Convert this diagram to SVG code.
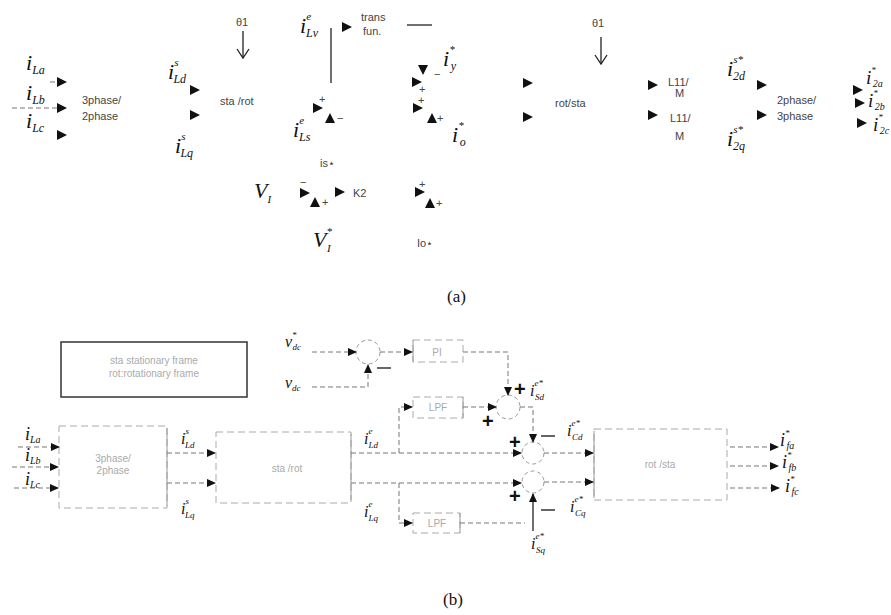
<svg xmlns="http://www.w3.org/2000/svg" xmlns:xlink="http://www.w3.org/1999/xlink" width="891" height="615" viewBox="0 0 891 615">
<style>
.m{font-family:"Liberation Serif",serif;font-style:italic;fill:#111}
.s{font-family:"Liberation Sans",sans-serif;fill:#444;font-size:11px}
.f{font-family:"Liberation Sans",sans-serif;fill:#aaa;font-size:10px}
.cap{font-family:"Liberation Serif",serif;fill:#111;font-size:17px}
.ln{stroke:#777;stroke-width:1;stroke-dasharray:5 3;fill:none}
.sl{stroke:#222;stroke-width:1.3;fill:none}
.box{stroke:#aaa;stroke-width:1;stroke-dasharray:7 4;fill:none}
.pl{font-family:"Liberation Sans",sans-serif;font-weight:bold;fill:#111;font-size:20px}
.ci{stroke:#999;stroke-width:1;stroke-dasharray:4 3;fill:none}
</style>
<defs>
<path id="tr" d="M-5,-5 L5,0 L-5,5 z" fill="#111"/>
<marker id="ah" markerUnits="userSpaceOnUse" markerWidth="9" markerHeight="8" refX="8" refY="4" orient="auto"><path d="M0,0 L9,4 L0,8 z" fill="#111"/></marker>
<path id="va" d="M-6,-9 L0,0 L6,-9" fill="none" stroke="#222" stroke-width="1.3"/>
</defs>

<!-- ===== Part (a) ===== -->
<g id="a-inputs">
<text class="m" x="26" y="70" font-size="22">i<tspan font-size="12" dy="4">La</tspan></text>
<text class="m" x="26" y="100" font-size="22">i<tspan font-size="12" dy="4">Lb</tspan></text>
<text class="m" x="26" y="128" font-size="22">i<tspan font-size="12" dy="4">Lc</tspan></text>
<use xlink:href="#tr" x="62" y="82"/><use xlink:href="#tr" x="62" y="108"/><use xlink:href="#tr" x="62" y="135"/>
</g>
<g id="a-3p2p"><text class="s" x="82" y="104">3phase/</text><text class="s" x="82" y="120">2phase</text></g>
<g id="a-ils">
<text class="m" x="168" y="79" font-size="22">i<tspan font-size="11" dy="-13">s</tspan><tspan font-size="12" dx="-5" dy="17">Ld</tspan></text>
<text class="m" x="175" y="153" font-size="22">i<tspan font-size="11" dy="-13">s</tspan><tspan font-size="12" dx="-5" dy="17">Lq</tspan></text>
<use xlink:href="#tr" x="195" y="90"/><use xlink:href="#tr" x="195" y="115"/>
</g>
<g id="a-theta1"><text class="s" x="236" y="26" font-size="12" fill="#222">θ1</text><line class="sl" x1="243" y1="31" x2="243" y2="58"/><use xlink:href="#va" x="243" y="58"/></g>
<g id="a-starot"><text class="s" x="220" y="105">sta /rot</text></g>
<g id="a-trans">
<text class="m" x="300" y="33" font-size="22">i<tspan font-size="11" dy="-13">e</tspan><tspan font-size="12" dx="-5" dy="17">Lv</tspan></text>
<line class="sl" x1="331" y1="28" x2="331" y2="83"/>
<use xlink:href="#tr" x="347" y="27"/>
<text class="s" x="361" y="21">trans</text><text class="s" x="363" y="35">fun.</text>
<line class="sl" x1="407" y1="25" x2="432" y2="25" stroke-width="1"/>
</g>
<g id="a-sum-y">
<text class="m" x="443" y="66" font-size="22">i<tspan font-size="11" dy="-13">*</tspan><tspan font-size="12" dx="-4" dy="17">y</tspan></text>
<use xlink:href="#tr" transform="translate(423,70) rotate(90)"/><text class="s" x="434" y="78" font-size="13" fill="#111">−</text>
<use xlink:href="#tr" x="417" y="82"/><text class="s" x="419" y="93" font-size="10" fill="#111">+</text>
</g>
<g id="a-sum-s">
<use xlink:href="#tr" x="318" y="108"/><text class="s" x="319" y="103" font-size="12" fill="#111">+</text>
<use xlink:href="#tr" transform="translate(330,118) rotate(-90)"/><text class="s" x="337" y="122" font-size="13" fill="#111">−</text>
<text class="m" x="293" y="137" font-size="22">i<tspan font-size="11" dy="-13">e</tspan><tspan font-size="12" dx="-5" dy="17">Ls</tspan></text>
<text class="s" x="320" y="167">is⋆</text>
</g>
<g id="a-sum-o">
<use xlink:href="#tr" x="418" y="108"/><text class="s" x="418" y="104" font-size="11" fill="#111">+</text>
<use xlink:href="#tr" transform="translate(432,118) rotate(-90)"/><text class="s" x="437" y="122" font-size="12" fill="#111">+</text>
<text class="m" x="452" y="142" font-size="22">i<tspan font-size="11" dy="-13">*</tspan><tspan font-size="12" dx="-4" dy="17">o</tspan></text>
</g>
<g id="a-k2">
<text class="m" x="254" y="198" font-size="22">V<tspan font-size="11" dy="5">I</tspan></text>
<text class="s" x="300" y="186" font-size="13" fill="#111">−</text>
<use xlink:href="#tr" x="305" y="193"/>
<use xlink:href="#tr" transform="translate(315,202) rotate(-90)"/><text class="s" x="322" y="206" font-size="12" fill="#111">+</text>
<use xlink:href="#tr" x="340" y="192"/><text class="s" x="353" y="197">K2</text>
<text class="m" x="313" y="247" font-size="22">V<tspan font-size="11" dy="-12">*</tspan><tspan font-size="11" dx="-5" dy="17">I</tspan></text>
</g>
<g id="a-sum-io">
<use xlink:href="#tr" x="420" y="192"/><text class="s" x="419" y="188" font-size="13" fill="#111">+</text>
<use xlink:href="#tr" transform="translate(430,203) rotate(-90)"/><text class="s" x="436" y="207" font-size="12" fill="#111">+</text>
<text class="s" x="417" y="247">Io⋆</text>
</g>
<g id="a-rotsta">
<use xlink:href="#tr" x="528" y="83"/><use xlink:href="#tr" x="528" y="117"/>
<text class="s" x="555" y="107">rot/sta</text>
<text class="s" x="592" y="27" font-size="12" fill="#222">θ1</text><line class="sl" x1="601" y1="37" x2="601" y2="64"/><use xlink:href="#va" x="601" y="64"/>
</g>
<g id="a-l11">
<use xlink:href="#tr" x="653" y="85"/><text class="s" x="668" y="86">L11/</text><text class="s" x="675" y="97">M</text>
<use xlink:href="#tr" x="653" y="115"/><text class="s" x="670" y="122">L11/</text><text class="s" x="675" y="140">M</text>
</g>
<g id="a-2p3p">
<text class="m" x="727" y="76" font-size="22">i<tspan font-size="11" dy="-13">s*</tspan><tspan font-size="12" dx="-10" dy="17">2d</tspan></text>
<text class="m" x="727" y="146" font-size="22">i<tspan font-size="11" dy="-13">s*</tspan><tspan font-size="12" dx="-10" dy="17">2q</tspan></text>
<use xlink:href="#tr" x="762" y="85"/><use xlink:href="#tr" x="762" y="115"/>
<text class="s" x="777" y="104">2phase/</text><text class="s" x="777" y="120">3phase</text>
</g>
<g id="a-out">
<use xlink:href="#tr" x="858" y="90"/><text class="m" x="866" y="84" font-size="19">i<tspan font-size="9" dy="-11">*</tspan><tspan font-size="10" dx="-3" dy="14">2a</tspan></text>
<use xlink:href="#tr" x="860" y="103"/><text class="m" x="868" y="107" font-size="19">i<tspan font-size="9" dy="-11">*</tspan><tspan font-size="10" dx="-3" dy="14">2b</tspan></text>
<use xlink:href="#tr" x="862" y="123"/><text class="m" x="873" y="131" font-size="19">i<tspan font-size="9" dy="-11">*</tspan><tspan font-size="10" dx="-3" dy="14">2c</tspan></text>
</g>
<text class="cap" x="447" y="302">(a)</text>

<!-- ===== Part (b) ===== -->
<g id="b-legend">
<rect x="61" y="342" width="186" height="55" fill="none" stroke="#333" stroke-width="1.5"/>
<text class="f" x="154" y="364" text-anchor="middle" fill="#666">sta stationary frame</text>
<text class="f" x="154" y="377" text-anchor="middle" fill="#666">rot:rotationary frame</text>
</g>
<g id="b-3p2p">
<rect class="box" x="59" y="426" width="108" height="82"/>
<line x1="167" y1="428" x2="167" y2="506" stroke="#999"/>
<text class="f" x="113" y="462" text-anchor="middle">3phase/</text>
<text class="f" x="113" y="474" text-anchor="middle">2phase</text>
</g>
<g id="b-in-labels">
<text class="m" x="25" y="440" font-size="18">i<tspan font-size="10" dy="3">La</tspan></text>
<text class="m" x="25" y="461" font-size="18">i<tspan font-size="10" dy="3">Lb</tspan></text>
<text class="m" x="25" y="485" font-size="18">i<tspan font-size="10" dy="3">Lc</tspan></text>
</g>
<g id="b-starot">
<rect class="box" x="216" y="432" width="135" height="71"/>
<line x1="351" y1="434" x2="351" y2="500" stroke="#999"/>
<text class="f" x="287" y="472" text-anchor="middle">sta /rot</text>
</g>
<g id="b-pi-sum">
<circle class="ci" cx="368" cy="352" r="12"/>
<text class="m" x="285" y="347" font-size="16">v<tspan font-size="9" dy="-9">*</tspan><tspan font-size="9" dx="-4" dy="12">dc</tspan></text>
<text class="m" x="285" y="388" font-size="16">v<tspan font-size="9" dy="3">dc</tspan></text>
<line x1="377" y1="368" x2="391" y2="368" stroke="#111" stroke-width="1.3"/>
</g>
<g id="b-pi"><rect class="box" x="413" y="340" width="50" height="22"/><line x1="413" y1="340" x2="413" y2="362" stroke="#999"/><text class="f" x="437" y="356" text-anchor="middle" fill="#666">PI</text></g>
<g id="b-lpf1"><rect class="box" x="413" y="397" width="50" height="21"/><line x1="463" y1="397" x2="463" y2="418" stroke="#999"/><text class="f" x="438" y="411" text-anchor="middle" fill="#666">LPF</text></g>
<g id="b-lpf2"><rect class="box" x="413" y="513" width="47" height="20"/><line x1="460" y1="513" x2="460" y2="533" stroke="#999"/><text class="f" x="437" y="527" text-anchor="middle" fill="#666">LPF</text></g>
<g id="b-sum-sd">
<circle class="ci" cx="508" cy="407" r="12"/>
<text class="pl" x="514" y="396">+</text>
<text class="m" x="530" y="396" font-size="16">i<tspan font-size="9" dy="-10">e*</tspan><tspan font-size="9" dx="-8" dy="14">Sd</tspan></text>
<text class="pl" x="482" y="428">+</text>
</g>
<g id="b-sum-cd">
<circle class="ci" cx="533" cy="453" r="11"/>
<text class="pl" x="509" y="449">+</text>
<line x1="541" y1="436" x2="555" y2="436" stroke="#111" stroke-width="1.3"/>
<text class="m" x="567" y="436" font-size="16">i<tspan font-size="9" dy="-10">e*</tspan><tspan font-size="9" dx="-8" dy="14">Cd</tspan></text>
</g>
<g id="b-sum-cq">
<circle class="ci" cx="533" cy="482" r="11"/>
<text class="pl" x="509" y="503">+</text>
<line x1="541" y1="510" x2="555" y2="510" stroke="#111" stroke-width="1.3"/>
<text class="m" x="570" y="512" font-size="16">i<tspan font-size="9" dy="-10">e*</tspan><tspan font-size="9" dx="-8" dy="14">Cq</tspan></text>
<text class="m" x="531" y="549" font-size="16">i<tspan font-size="9" dy="-10">e*</tspan><tspan font-size="9" dx="-8" dy="14">Sq</tspan></text>
</g>
<g id="b-rotsta">
<rect class="box" x="594" y="429" width="133" height="71"/>
<line x1="594" y1="431" x2="594" y2="498" stroke="#999"/>
<text class="f" x="660" y="468" text-anchor="middle">rot /sta</text>
</g>
<g id="b-mid-labels">
<text class="m" x="181" y="444" font-size="16">i<tspan font-size="9" dy="-10">s</tspan><tspan font-size="9" dx="-4" dy="14">Ld</tspan></text>
<text class="m" x="181" y="514" font-size="16">i<tspan font-size="9" dy="-10">s</tspan><tspan font-size="9" dx="-4" dy="14">Lq</tspan></text>
<text class="m" x="364" y="444" font-size="16">i<tspan font-size="9" dy="-10">e</tspan><tspan font-size="9" dx="-4" dy="14">Ld</tspan></text>
<text class="m" x="364" y="517" font-size="16">i<tspan font-size="9" dy="-10">e</tspan><tspan font-size="9" dx="-4" dy="14">Lq</tspan></text>
</g>
<g id="b-out-labels">
<text class="m" x="780" y="446" font-size="18">i<tspan font-size="9" dy="-10">*</tspan><tspan font-size="10" dx="-3" dy="13">fa</tspan></text>
<text class="m" x="782" y="468" font-size="18">i<tspan font-size="9" dy="-10">*</tspan><tspan font-size="10" dx="-3" dy="13">fb</tspan></text>
<text class="m" x="785" y="492" font-size="18">i<tspan font-size="9" dy="-10">*</tspan><tspan font-size="10" dx="-3" dy="13">fc</tspan></text>
</g>
<text class="cap" x="443" y="605">(b)</text>

<g id="connectors">
<line class="ln" x1="50" y1="82" x2="57" y2="82" stroke="#bbb"/>
<line class="ln" x1="12" y1="108" x2="57" y2="108" stroke="#bbb"/>
<line class="ln" x1="18" y1="447" x2="59" y2="447" marker-end="url(#ah)"/>
<line class="ln" x1="12" y1="467" x2="58" y2="467" marker-end="url(#ah)"/>
<line class="ln" x1="14" y1="488" x2="58" y2="488" marker-end="url(#ah)"/>
<line class="ln" x1="167" y1="453" x2="215" y2="453" marker-end="url(#ah)"/>
<line class="ln" x1="167" y1="483" x2="215" y2="483" marker-end="url(#ah)"/>
<line class="ln" x1="312" y1="352" x2="356" y2="352" marker-end="url(#ah)"/>
<polyline class="ln" points="312,387 368,387 368,365" marker-end="url(#ah)"/>
<line class="ln" x1="380" y1="352" x2="412" y2="352" marker-end="url(#ah)"/>
<polyline class="ln" points="463,352 508,352 508,395" marker-end="url(#ah)"/>
<line class="ln" x1="351" y1="453" x2="521" y2="453" marker-end="url(#ah)"/>
<line class="ln" x1="351" y1="483" x2="521" y2="483" marker-end="url(#ah)"/>
<polyline class="ln" points="399,453 399,407 412,407" marker-end="url(#ah)"/>
<polyline class="ln" points="399,483 399,523 412,523" marker-end="url(#ah)"/>
<line class="ln" x1="463" y1="407" x2="496" y2="407" marker-end="url(#ah)"/>
<line class="ln" x1="460" y1="523" x2="525" y2="523"/>
<polyline class="ln" points="520,407 533,407 533,442" marker-end="url(#ah)"/>
<line x1="533" y1="531" x2="533" y2="494" stroke="#222" stroke-width="1.3" marker-end="url(#ah)"/>
<line class="ln" x1="544" y1="453" x2="593" y2="453" marker-end="url(#ah)"/>
<line class="ln" x1="544" y1="482" x2="593" y2="482" marker-end="url(#ah)"/>
<line class="ln" x1="730" y1="447" x2="778" y2="447" marker-end="url(#ah)"/>
<line class="ln" x1="730" y1="466" x2="778" y2="466" marker-end="url(#ah)"/>
<line class="ln" x1="730" y1="488" x2="779" y2="488" marker-end="url(#ah)"/>
</g>
</svg>
